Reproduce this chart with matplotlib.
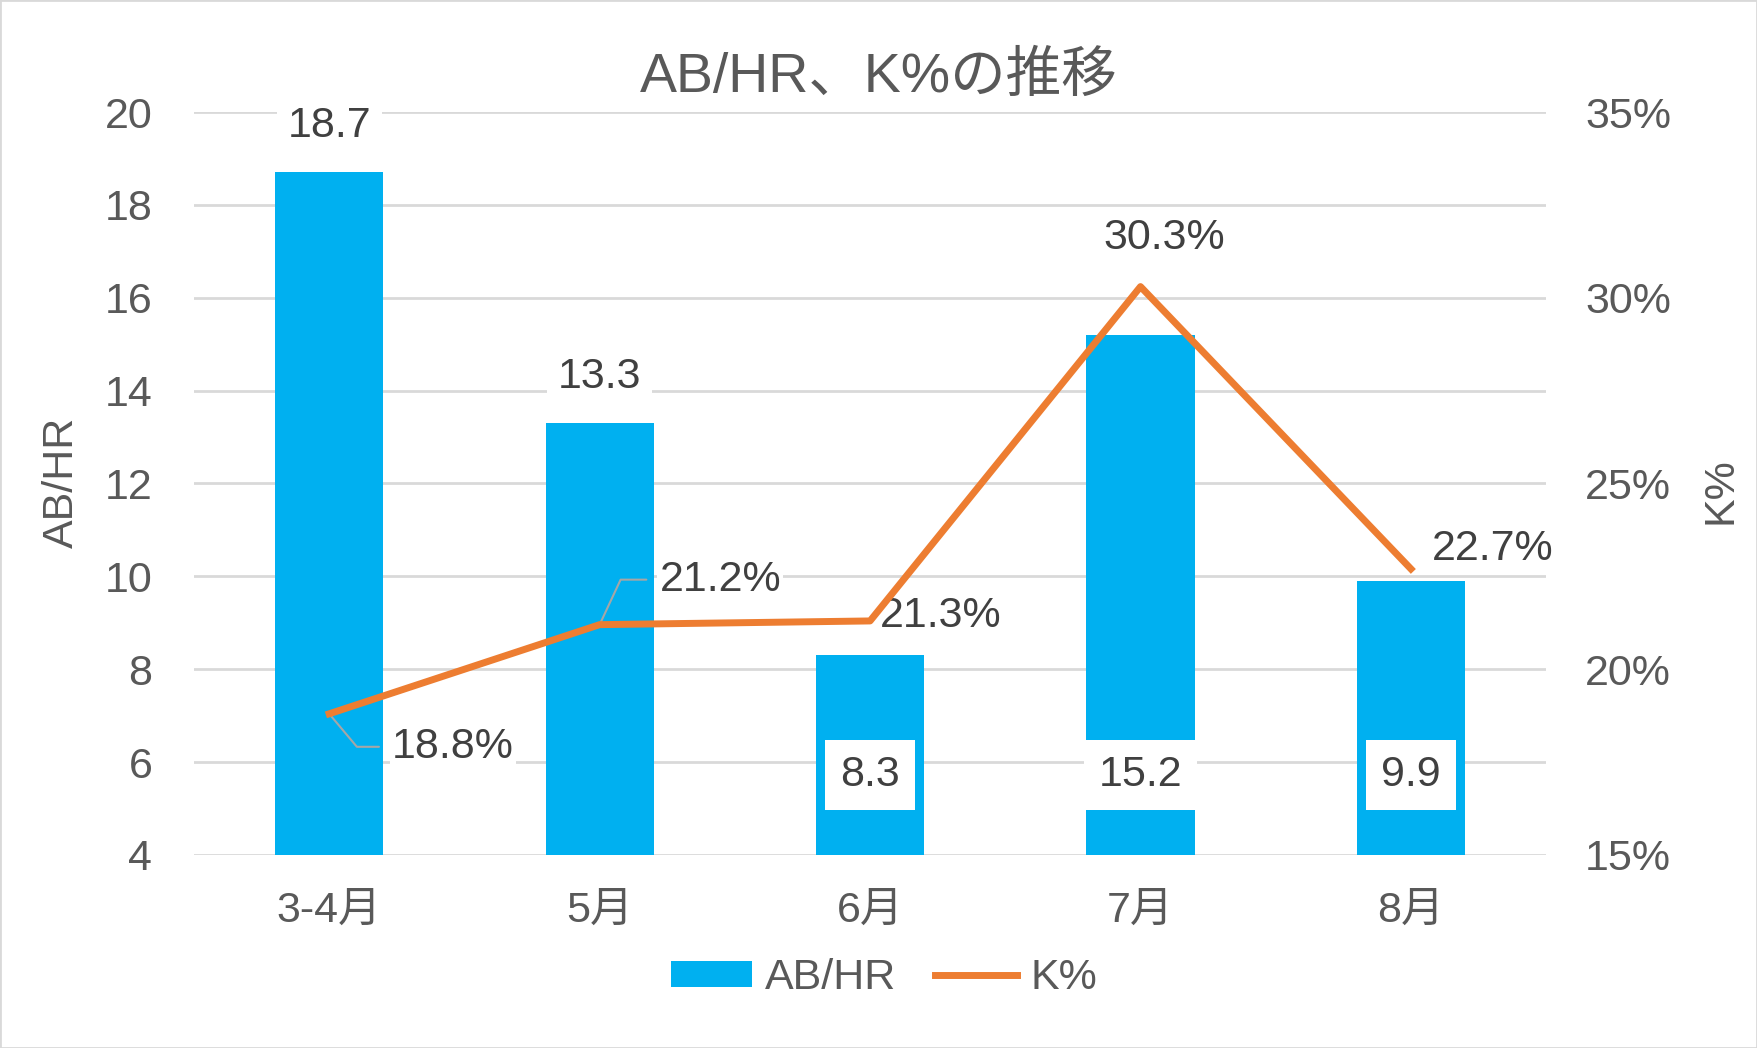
import matplotlib.pyplot as plt
from matplotlib.patches import Rectangle
from matplotlib.ticker import PercentFormatter

# データ
months = ['3-4月', '5月', '6月', '7月', '8月']
ab_hr = [18.7, 13.3, 8.3, 15.2, 9.9]
k_pct = [18.8, 21.2, 21.3, 30.3, 22.7]

plt.rcParams['font.family'] = ['Liberation Sans', 'Noto Sans CJK JP']

fig = plt.figure(figsize=(17.57, 10.48), dpi=100)
ax = fig.add_axes([0.1104, 0.1842, 0.7696, 0.7089])
ax2 = ax.twinx()

x = list(range(len(months)))
tick_color = '#595959'
label_color = '#404040'
fs = 31

# 棒グラフ (AB/HR)
ax.bar(x, ab_hr, width=0.4, color='#00B0F0', label='AB/HR', zorder=2)
ax.set_xlim(-0.5, len(months) - 0.5)
ax.set_ylim(4, 20)
ax.set_yticks(range(4, 21, 2))
ax.set_xticks(x)
ax.set_xticklabels(months)
ax.set_axisbelow(True)
ax.grid(axis='y', color='#D9D9D9', linewidth=2)
for s in ax.spines.values():
    s.set_visible(False)
ax.tick_params(axis='y', length=0, pad=30, labelsize=fs, colors=tick_color)
ax.tick_params(axis='x', length=0, pad=26, labelsize=fs, colors=tick_color)

# 折れ線 (K%)
ax2.plot(x, k_pct, color='#ED7D31', linewidth=5, label='K%', zorder=5)
ax2.set_ylim(15, 35)
ax2.set_yticks(range(15, 36, 5))
ax2.yaxis.set_major_formatter(PercentFormatter(decimals=0))
for s in ax2.spines.values():
    s.set_visible(False)
ax2.tick_params(axis='y', length=0, pad=28, labelsize=fs, colors=tick_color)

box = dict(boxstyle='square,pad=0.25', facecolor='white', edgecolor='none')
tight_box = dict(boxstyle='square,pad=0.05', facecolor='white', edgecolor='none')

# 棒のラベル
for i, v in enumerate(ab_hr):
    if i < 2:
        ax.annotate(f'{v}', (i, v), xytext=(0, 46), textcoords='offset pixels',
                    ha='center', va='center', fontsize=fs, color=label_color,
                    bbox=box, zorder=4)
    else:
        ax.annotate(f'{v}', (i, 4), xytext=(0, 80), textcoords='offset pixels',
                    ha='center', va='center', fontsize=fs, color=label_color,
                    bbox=dict(boxstyle='square,pad=0.35', facecolor='white', edgecolor='none'),
                    zorder=4)

# 折れ線のラベル (オフセット, 揃え, 引き出し線の角度)
k_offsets = [(63, -33, 'left', -50), (60, 45, 'left', 65), (10, 5, 'left', None),
             (24, 49, 'center', None), (21, 20, 'left', None)]
for i, v in enumerate(k_pct):
    dx, dy, ha, ang = k_offsets[i]
    arrow = None
    if ang is not None:
        arrow = dict(arrowstyle='-', color='#A6A6A6', linewidth=1.5,
                     connectionstyle=f'angle,angleA=180,angleB={ang},rad=0',
                     shrinkA=8, shrinkB=0)
    ax2.annotate(f'{v}%', (i, v), xytext=(dx, dy), textcoords='offset pixels',
                 ha=ha, va='center', fontsize=fs, color=label_color,
                 bbox=tight_box, arrowprops=arrow, zorder=4)

# タイトルと軸ラベル
fig.text(0.5, 0.926, 'AB/HR、K%の推移', ha='center', va='center', fontsize=40, color=tick_color)
fig.text(0.035, 0.54, 'AB/HR', rotation=90, ha='center', va='center', fontsize=fs, color=tick_color)
fig.text(0.979, 0.532, 'K%', rotation=90, ha='center', va='center', fontsize=fs, color=tick_color)

# 凡例
h1, l1 = ax.get_legend_handles_labels()
h2, l2 = ax2.get_legend_handles_labels()
fig.legend(h1 + h2, l1 + l2, loc='center', bbox_to_anchor=(0.503, 0.067), ncol=2,
           frameon=False, fontsize=fs, labelcolor=tick_color, handlelength=1.9,
           handleheight=0.55, handletextpad=0.3, columnspacing=0.9)

fig.patches.append(Rectangle((0, 0), 1, 1, transform=fig.transFigure, fill=False,
                             edgecolor='#D9D9D9', linewidth=2))

fig.savefig('out.png', dpi=100)
